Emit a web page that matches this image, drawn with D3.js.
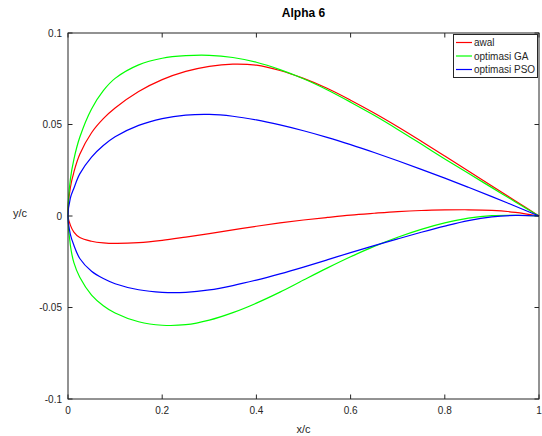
<!DOCTYPE html>
<html><head><meta charset="utf-8">
<script src="https://cdn.jsdelivr.net/npm/d3@7"></script>
<style>body{margin:0;background:#fff}svg{display:block}text{font-family:"Liberation Sans",Arial,sans-serif}</style>
</head><body><svg id="c" width="542" height="436"></svg>
<script>
const stations = [0,0.005,0.0125,0.025,0.05,0.075,0.1,0.15,0.2,0.25,0.3,0.35,0.4,0.45,0.5,0.55,0.6,0.65,0.7,0.75,0.8,0.85,0.9,0.95,1];
const awalUpper = [0,0.0155,0.024,0.0337,0.0455,0.0532,0.059,0.068,0.0745,0.079,0.0818,0.083,0.0824,0.0795,0.0752,0.0698,0.0633,0.0563,0.0488,0.0409,0.0328,0.0246,0.0164,0.0082,0];
const awalLower = [0,-0.005,-0.0088,-0.0118,-0.0138,-0.0147,-0.015,-0.0146,-0.0133,-0.0115,-0.0096,-0.0076,-0.0056,-0.0038,-0.0022,-0.0008,0.0005,0.0015,0.0024,0.003,0.0033,0.0034,0.0031,0.002,0];
const gaUpper = [0,0.02,0.031,0.043,0.0585,0.0685,0.0752,0.0826,0.0862,0.0876,0.0878,0.0866,0.084,0.08,0.075,0.069,0.0622,0.055,0.0473,0.0393,0.0312,0.0233,0.0155,0.0077,0];
const gaLower = [0,-0.016,-0.0255,-0.0335,-0.0432,-0.049,-0.053,-0.0578,-0.0597,-0.0594,-0.0569,-0.0528,-0.0476,-0.0416,-0.035,-0.0285,-0.0223,-0.0166,-0.0116,-0.0073,-0.0038,-0.0012,0.0002,0.0004,0];
const psoUpper = [0,0.0098,0.0152,0.023,0.0322,0.0385,0.0433,0.0495,0.0532,0.0551,0.0555,0.0545,0.0525,0.0498,0.0466,0.043,0.039,0.0347,0.0302,0.0255,0.0207,0.0157,0.0106,0.0053,0];
const psoLower = [0,-0.01,-0.016,-0.0232,-0.0302,-0.0342,-0.037,-0.0403,-0.0417,-0.0417,-0.0404,-0.038,-0.035,-0.0316,-0.0279,-0.024,-0.02,-0.0162,-0.0125,-0.0089,-0.0055,-0.0025,-0.0005,0.0003,0];
const seriesNames = ["awal","optimasi GA","optimasi PSO"];
const seriesColors = ["#ff0000","#00ff00","#0000ff"];
const xTicks = [0,0.2,0.4,0.6,0.8,1];
const xTickLabels = ["0","0.2","0.4","0.6","0.8","1"];
const yTicks = [-0.1,-0.05,0,0.05,0.1];
const yTickLabels = ["-0.1","-0.05","0","0.05","0.1"];

const svg = d3.select("#c");
const L=68, R=539, T=33, B=399;
const x = d3.scaleLinear().domain([0,1]).range([L,R]);
const y = d3.scaleLinear().domain([-0.1,0.1]).range([B,T]);
const axCol = "#262626";

const series = [[awalUpper,awalLower],[gaUpper,gaLower],[psoUpper,psoLower]];
const line = d3.line().x(d=>x(d[0])).y(d=>y(d[1])).curve(d3.curveCatmullRom.alpha(0.5));
series.forEach((s,i)=>{
  const up = stations.map((v,j)=>[v,s[0][j]]).reverse();
  const lo = stations.map((v,j)=>[v,s[1][j]]).slice(1);
  svg.append("path").attr("d",line(up.concat(lo))).attr("fill","none")
    .attr("stroke",seriesColors[i]).attr("stroke-width",1.2);
});

// box
svg.append("rect").attr("x",L).attr("y",T).attr("width",R-L).attr("height",B-T)
  .attr("fill","none").attr("stroke",axCol).attr("stroke-width",1);
const tk=4.5;
const g = svg.append("g").attr("stroke",axCol).attr("stroke-width",1);
xTicks.forEach(t=>{
  g.append("line").attr("x1",x(t)).attr("x2",x(t)).attr("y1",B).attr("y2",B-tk);
  g.append("line").attr("x1",x(t)).attr("x2",x(t)).attr("y1",T).attr("y2",T+tk);
});
yTicks.forEach(t=>{
  g.append("line").attr("x1",L).attr("x2",L+tk).attr("y1",y(t)).attr("y2",y(t));
  g.append("line").attr("x1",R).attr("x2",R-tk).attr("y1",y(t)).attr("y2",y(t));
});
xTicks.forEach((t,i)=>{
  svg.append("text").attr("x",x(t)).attr("y",B+15).attr("text-anchor","middle")
    .attr("font-size",10).attr("fill",axCol).text(xTickLabels[i]);
});
yTicks.forEach((t,i)=>{
  svg.append("text").attr("x",L-6).attr("y",y(t)+3.5).attr("text-anchor","end")
    .attr("font-size",10).attr("fill",axCol).text(yTickLabels[i]);
});
svg.append("text").attr("x",(L+R)/2).attr("y",17).attr("text-anchor","middle")
  .attr("font-size",12).attr("font-weight","bold").attr("fill","#000").text("Alpha 6");
svg.append("text").attr("x",(L+R)/2).attr("y",433).attr("text-anchor","middle")
  .attr("font-size",11).attr("fill",axCol).text("x/c");
svg.append("text").attr("x",20).attr("y",217).attr("text-anchor","middle")
  .attr("font-size",11).attr("fill",axCol).text("y/c");

// legend
const lg = svg.append("g");
lg.append("rect").attr("x",453.5).attr("y",34.5).attr("width",84).attr("height",43)
  .attr("fill","#fff").attr("stroke",axCol).attr("stroke-width",1);
seriesNames.forEach((n,i)=>{
  const yy = 42.5+i*13.5;
  lg.append("line").attr("x1",456).attr("x2",472).attr("y1",yy).attr("y2",yy)
    .attr("stroke",seriesColors[i]).attr("stroke-width",1.2);
  lg.append("text").attr("x",474).attr("y",yy+3.5).attr("font-size",10).attr("fill",axCol).text(n);
});
</script></body></html>
